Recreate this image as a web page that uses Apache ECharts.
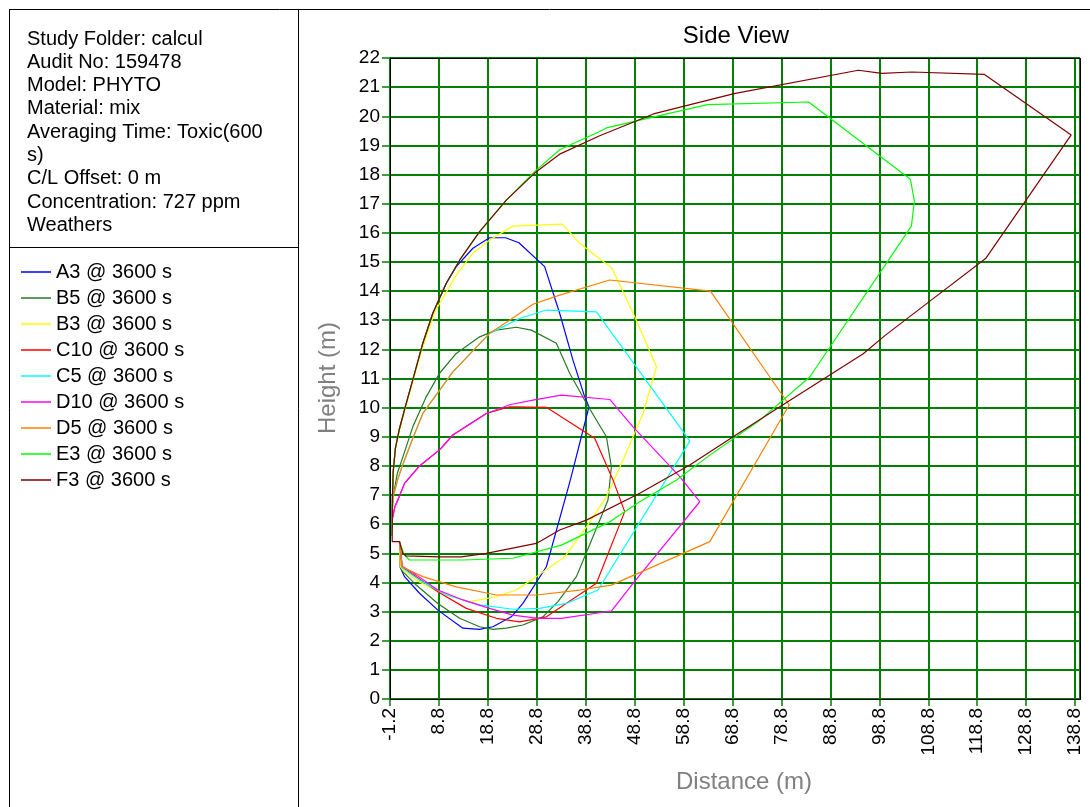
<!DOCTYPE html>
<html>
<head>
<meta charset="utf-8">
<script src="https://cdn.jsdelivr.net/npm/echarts@6/dist/echarts.min.js"></script>
<style>html,body{margin:0;padding:0;background:#fff}#c{width:1090px;height:807px}</style>
</head>
<body>
<div id="c"></div>
<script>
const infoLines = [
  'Study Folder: calcul',
  'Audit No: 159478',
  'Model: PHYTO',
  'Material: mix',
  'Averaging Time: Toxic(600',
  's)',
  'C/L Offset: 0 m',
  'Concentration: 727 ppm',
  'Weathers'
];
const seriesNames = ['A3 @ 3600 s','B5 @ 3600 s','B3 @ 3600 s','C10 @ 3600 s','C5 @ 3600 s','D10 @ 3600 s','D5 @ 3600 s','E3 @ 3600 s','F3 @ 3600 s'];
const seriesColors = ['#0000ff','#237a23','#ffff00','#ff0000','#00ffff','#ff00ff','#ff8000','#00ff00','#800000'];

const a3 = [[-0.9,5.6],[-0.72,6.8],[-0.55,7.8],[-0.1,8.6],[0.7,9.25],[1.8,9.95],[3.46,10.95],[5.51,12.21],[7.55,13.24],[10.3,14.27],[12.34,14.84],[15.74,15.47],[19.15,15.83],[22.42,15.83],[25.14,15.66],[30.4,14.84],[33.47,13.24],[36.19,11.63],[38.58,10.37],[39.46,10.03],[35.66,7.52],[30.75,4.54],[25.96,3.28],[23.59,2.82],[19.83,2.48],[17.11,2.39],[13.69,2.43],[8.58,3.05],[4.83,3.63],[1.77,4.2],[0.89,4.52],[0.74,5.4]];
const b5 = [[-1.0,5.6],[-0.8,6.4],[-0.5,7.0],[0.3,7.75],[1.42,8.3],[3.46,9.34],[6.2,10.37],[8.92,11.18],[12.34,11.86],[17.11,12.43],[20.52,12.66],[24.61,12.76],[27.68,12.66],[32.79,12.21],[35.52,11.18],[38.93,10.15],[43.02,9.0],[44.04,7.97],[43.35,6.83],[40.28,5.57],[36.89,4.2],[33.12,3.34],[30.05,2.82],[25.96,2.54],[22.57,2.43],[19.83,2.39],[17.11,2.48],[13.02,2.77],[8.58,3.28],[4.16,3.91],[1.42,4.37],[0.89,4.54],[0.74,5.4]];
const b3 = [[-0.9,5.6],[-0.72,6.8],[-0.55,7.8],[-0.1,8.6],[0.7,9.2],[1.8,9.9],[3.46,10.9],[5.51,12.1],[8.0,13.3],[12.34,14.55],[15.74,15.3],[19.15,15.75],[23.92,16.23],[34.02,16.3],[37.56,15.64],[44.17,14.78],[48.81,13.12],[53.25,11.4],[50.51,9.8],[46.42,8.2],[43.02,6.94],[38.93,5.91],[34.49,4.88],[28.7,4.2],[24.61,3.74],[20.52,3.51],[15.06,3.34],[8.58,3.68],[4.16,4.08],[1.42,4.43],[0.89,4.55],[0.74,5.4]];
const c10 = [[-1.0,5.6],[-0.7,6.2],[-0.2,6.6],[0.4,6.83],[1.77,7.4],[4.83,8.0],[8.92,8.55],[11.65,9.06],[18.48,9.8],[23.24,10.03],[27.3,10.02],[30.75,10.01],[40.63,8.95],[44.37,7.52],[46.76,6.43],[40.98,3.97],[30.75,2.82],[25.29,2.65],[20.52,2.77],[14.39,3.11],[8.58,3.68],[4.16,4.2],[1.3,4.52],[0.74,5.4]];
const c5 = [[-1.0,5.6],[-0.8,6.3],[-0.55,6.94],[0.4,7.55],[1.42,8.05],[3.46,8.95],[5.51,9.8],[11.65,11.23],[19.15,12.55],[25.29,13.06],[30.75,13.35],[40.98,13.29],[58.01,9.34],[60.06,8.85],[41.3,3.74],[34.84,3.28],[29.38,3.11],[23.92,3.08],[17.11,3.23],[10.3,3.57],[4.83,4.08],[1.3,4.5],[0.74,5.4]];
const d10 = [[-1.0,5.6],[-0.7,6.2],[-0.2,6.6],[0.4,6.83],[1.77,7.4],[4.83,8.0],[8.92,8.55],[11.65,9.06],[18.48,9.8],[23.24,10.1],[28.01,10.26],[33.82,10.43],[43.7,10.28],[48.46,9.34],[58.01,7.63],[62.1,6.77],[48.46,3.97],[44.04,3.02],[33.82,2.77],[29.03,2.77],[23.92,2.88],[19.15,3.11],[13.69,3.4],[8.58,3.74],[4.16,4.26],[1.3,4.56],[0.74,5.4]];
const d5 = [[-1.0,5.6],[-0.8,6.3],[-0.55,6.94],[0.4,7.55],[1.42,8.05],[3.46,8.95],[5.51,9.8],[11.65,11.23],[19.15,12.55],[23.24,13.0],[28.0,13.55],[33.47,13.86],[43.7,14.38],[64.29,14.0],[80.37,10.09],[64.15,5.4],[44.04,3.91],[37.56,3.74],[28.7,3.57],[20.52,3.57],[12.34,3.85],[5.51,4.2],[1.3,4.53],[0.74,5.4]];
const e3 = [[-0.9,5.6],[-0.72,6.8],[-0.55,7.8],[-0.1,8.6],[0.7,9.25],[1.8,9.95],[3.46,10.95],[5.51,12.21],[7.55,13.24],[10.3,14.27],[13.02,15.06],[17.11,16.04],[22.57,17.12],[28.36,18.1],[33.47,18.85],[41.65,19.48],[43.02,19.6],[63.62,20.4],[84.34,20.49],[105.14,17.84],[105.96,17.09],[105.35,16.23],[84.61,11.06],[74.38,9.57],[64.15,8.37],[57.34,7.52],[49.83,6.77],[43.7,6.08],[33.82,5.28],[23.92,4.83],[13.69,4.77],[2.79,4.77],[1.76,4.94],[1.09,5.23],[0.74,5.4]];
const f3 = [[-0.75,5.4],[-0.72,6.8],[-0.55,7.8],[-0.1,8.6],[0.7,9.25],[1.8,9.95],[3.46,10.95],[5.51,12.21],[7.55,13.24],[10.3,14.27],[13.02,15.06],[17.11,16.04],[22.57,17.12],[28.36,18.05],[33.47,18.7],[41.65,19.33],[52.64,20.08],[69.1,20.78],[94.5,21.58],[99.3,21.47],[105.5,21.52],[120.2,21.44],[138.0,19.36],[120.58,15.13],[108.93,13.63],[99.99,12.48],[95.5,11.85],[78.47,10.03],[68.92,9.0],[60.06,8.03],[49.83,7.06],[38.93,6.14],[33.47,5.8],[28.7,5.34],[18.48,5.0],[13.36,4.88],[8.92,4.88],[2.1,4.91],[1.42,5.0],[0.74,5.4],[-0.75,5.4]];

const seriesData = [a3, b5, b3, c10, c5, d10, d5, e3, f3];

const xFirstTick = -1.2;
const xLast = 139.8;
const xStep = 10;
const yMax = 22;
const yStep = 1;

const X_SHIFT = -xFirstTick;
const shift = pts => pts.map(p => [p[0] + X_SHIFT, p[1]]);

const FONT = '"Liberation Sans", Arial, sans-serif';
const GRID = {left: 390, top: 58, width: 690, height: 641};

const chart = echarts.init(document.getElementById('c'), null, {renderer: 'canvas'});

const graphics = [];
graphics.push({type:'line', shape:{x1:9, y1:9.5, x2:1090, y2:9.5}, style:{stroke:'#000', lineWidth:1}});
graphics.push({type:'line', shape:{x1:9.5, y1:9.5, x2:9.5, y2:807}, style:{stroke:'#000', lineWidth:1}});
graphics.push({type:'line', shape:{x1:298.5, y1:9.5, x2:298.5, y2:807}, style:{stroke:'#000', lineWidth:1}});
graphics.push({type:'line', shape:{x1:9.5, y1:247.5, x2:298.5, y2:247.5}, style:{stroke:'#000', lineWidth:1}});
infoLines.forEach((t, i) => {
  graphics.push({type:'text', x:27, y:39 + i * 23.3,
    style:{text:t, font:'20px ' + FONT, fill:'#000', textAlign:'left', textVerticalAlign:'middle', align:'left', verticalAlign:'middle'}});
});
graphics.push({type:'text', x:736, y:36,
  style:{text:'Side View', font:'24px ' + FONT, fill:'#000', textAlign:'center', textVerticalAlign:'middle', align:'center', verticalAlign:'middle'}});
graphics.push({type:'text', x:744, y:782,
  style:{text:'Distance (m)', font:'24px ' + FONT, fill:'#808080', textAlign:'center', textVerticalAlign:'middle', align:'center', verticalAlign:'middle'}});
graphics.push({type:'text', x:328, y:378, rotation: Math.PI / 2,
  style:{text:'Height (m)', font:'24px ' + FONT, fill:'#808080', textAlign:'center', textVerticalAlign:'middle', align:'center', verticalAlign:'middle'}});
graphics.push({type:'rect', z:100,
  shape:{x:GRID.left + 0.5, y:GRID.top + 0.5, width:GRID.width, height:GRID.height},
  style:{fill:'transparent', stroke:'#000', lineWidth:1}});

const option = {
  animation: false,
  backgroundColor: '#fff',
  textStyle: {fontFamily: FONT},
  grid: {left: GRID.left, top: GRID.top, width: GRID.width, height: GRID.height, containLabel: false},
  legend: {
    orient: 'vertical', left: 16, top: 257,
    icon: 'rect',
    itemWidth: 30, itemHeight: 1.5, itemGap: 6,
    textStyle: {fontSize: 20, color: '#000', fontFamily: FONT, lineHeight: 20},
    data: seriesNames
  },
  xAxis: {
    type: 'value', min: 0, max: xLast + X_SHIFT, interval: xStep,
    axisLine: {show: true, lineStyle: {color: '#000', width: 1}},
    axisTick: {show: true, length: 7, lineStyle: {color: '#008000', width: 1.5}},
    axisLabel: {rotate: 90, margin: 9, fontSize: 19, color: '#000', fontFamily: FONT,
      showMaxLabel: false,
      formatter: v => (v - X_SHIFT).toFixed(1)},
    splitLine: {show: true, lineStyle: {color: '#008000', width: 2}}
  },
  yAxis: {
    type: 'value', min: 0, max: yMax, interval: yStep,
    axisLine: {show: true, lineStyle: {color: '#000', width: 1}},
    axisTick: {show: true, length: 8, lineStyle: {color: '#008000', width: 1.5}},
    axisLabel: {margin: 10, fontSize: 19, color: '#000', fontFamily: FONT},
    splitLine: {show: true, lineStyle: {color: '#008000', width: 2}}
  },
  series: seriesData.map((d, i) => ({
    name: seriesNames[i],
    type: 'line',
    data: shift(d),
    symbol: 'none',
    smooth: false,
    clip: true,
    color: seriesColors[i],
    lineStyle: {color: seriesColors[i], width: 1.2}
  })),
  graphic: graphics
};
chart.setOption(option);
</script>
</body>
</html>
